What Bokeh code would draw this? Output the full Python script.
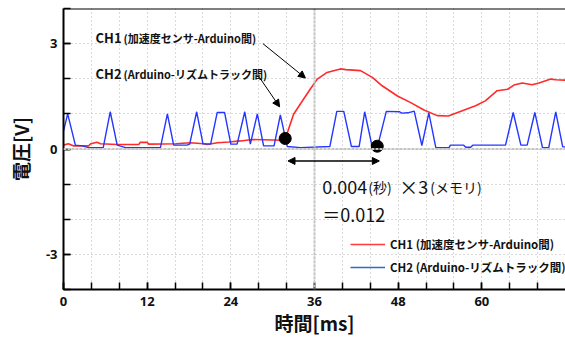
from bokeh.plotting import figure
from bokeh.models import FixedTicker, Span, Arrow, NormalHead, Legend, LegendItem, Label
from bokeh.embed import file_html
from bokeh.resources import INLINE

# ---------------- data ----------------
t_ch1 = [0.0, 0.7, 1.4, 3.6, 3.9, 4.8, 5.3, 7.7, 10.8, 11.0, 12.0, 12.2, 16.1, 18.2,
         20.1, 20.6, 22.1, 23.7, 25.4, 27.1, 31.4, 31.9, 33.0, 34.3, 35.4, 36.4, 37.8,
         39.7, 40.5, 42.6, 44.3, 45.7, 47.9, 49.8, 51.7, 53.6, 55.2, 57.2, 59.1, 60.5,
         62.2, 63.7, 64.6, 65.8, 67.2, 68.2, 69.9, 70.6, 72.0]
v_ch1 = [0.11, 0.15, 0.09, 0.09, 0.15, 0.19, 0.15, 0.13, 0.13, 0.19, 0.19, 0.14, 0.15, 0.18,
         0.15, 0.13, 0.18, 0.20, 0.23, 0.27, 0.25, 0.34, 0.99, 1.38, 1.71, 1.99, 2.18,
         2.28, 2.26, 2.23, 2.04, 1.80, 1.51, 1.32, 1.11, 0.95, 0.94, 1.09, 1.23, 1.37,
         1.66, 1.70, 1.82, 1.88, 1.83, 1.88, 1.99, 1.97, 1.96]

t_ch2 = [0.0, 0.6, 1.7, 2.7, 3.6, 5.7, 6.7, 7.7, 8.9, 13.9, 14.9, 15.8, 17.7, 18.1, 19.1,
         20.0, 21.1, 22.05, 23.1, 24.0, 24.9, 26.0, 26.8, 27.8, 28.7, 30.2, 31.1, 32.1,
         34.0, 38.2, 39.2, 40.2, 41.3, 42.4, 43.2, 44.3, 45.0, 46.3, 48.2, 48.5, 49.4,
         50.3, 51.4, 52.4, 53.4, 55.3, 55.5, 57.4, 57.7, 58.4, 58.7, 63.4, 64.5, 65.6,
         66.5, 67.6, 68.7, 69.6, 70.6, 71.6, 72.0]
v_ch2 = [0.51, 1.00, 0.11, 0.09, 0.04, 0.04, 1.06, 0.11, 0.04, 0.04, 1.00, 0.11, 0.11, 0.14, 1.06,
         0.15, 0.14, 1.04, 1.04, 0.14, 0.14, 1.06, 0.14, 1.00, 0.09, 0.09, 0.97, 0.07,
         0.04, 0.07, 1.07, 1.07, 0.07, 0.07, 1.06, 0.04, 0.04, 1.07, 1.06, 1.02, 1.03,
         1.08, 0.10, 1.03, 0.04, 0.04, 0.11, 0.11, 0.05, 0.05, 0.11, 0.11, 1.04, 0.11,
         0.11, 1.04, 0.04, 0.04, 1.06, 0.06, 0.06]

marker_t = [31.8, 45.0]
marker_v = [0.30, 0.08]

x_tick_values = [0, 12, 24, 36, 48, 60]
x_minor_values = [0, 4, 8, 12, 16, 20, 24, 28, 32, 36, 40, 44, 48, 52, 56, 60, 64, 68]
y_tick_values = [-3, 0, 3]
y_minor_values = [-4, -3, -2, -1, 0, 1, 2, 3, 4]

ch1_name = "CH1"
ch1_desc = "(加速度センサ-Arduino間)"
ch2_name = "CH2"
ch2_desc = "(Arduino-リズムトラック間)"

# ---------------- figure ----------------
JP = "Noto Sans CJK JP"
RED = "#ff2a2a"
BLUE = "#2436ff"
NAN = float("nan")

p = figure(width=565, height=338, x_range=(0, 72), y_range=(-4, 4),
           output_backend="svg", toolbar_location=None,
           min_border_left=63, min_border_right=0, min_border_top=8, min_border_bottom=49)
p.outline_line_color = None
p.background_fill_color = "white"

# axes
p.xaxis.ticker = FixedTicker(ticks=x_tick_values, minor_ticks=x_minor_values)
p.yaxis.ticker = FixedTicker(ticks=y_tick_values, minor_ticks=y_minor_values)
p.yaxis.major_label_overrides = {-3: "-3", 0: "0", 3: "3"}
for ax in (p.xaxis, p.yaxis):
    ax.axis_line_color = "black"
    ax.axis_line_width = 2
    ax.major_tick_in = 7
    ax.major_tick_out = 0
    ax.minor_tick_in = 7
    ax.minor_tick_out = 0
    ax.major_tick_line_width = 1.5
    ax.minor_tick_line_width = 1.5
    ax.major_tick_line_color = "black"
    ax.minor_tick_line_color = "black"
    ax.major_label_text_font = "Open Sans"
    ax.major_label_text_font_style = "bold"
    ax.major_label_text_font_size = "13px"
    ax.major_label_text_color = "#111111"
    ax.axis_label_text_font = JP
    ax.axis_label_text_font_style = "bold"
    ax.axis_label_text_font_size = "19px"
    ax.axis_label_text_color = "#111111"

p.xaxis.axis_label = "時間[ms]"
p.yaxis.axis_label = "電圧[V]"
p.xaxis.major_label_standoff = 7
p.xaxis.axis_label_standoff = 0
p.yaxis.major_label_standoff = 6
p.yaxis.axis_label_standoff = 9

# grid (dotted graticule)
p.xgrid.ticker = FixedTicker(ticks=x_minor_values[1:])
p.ygrid.ticker = FixedTicker(ticks=y_minor_values[1:-1])
for g in (p.xgrid, p.ygrid):
    g.grid_line_color = "#b5b5b5"
    g.grid_line_dash = "1 3"
    g.grid_line_width = 1

# centre lines
p.add_layout(Span(location=36, dimension="height", line_color="#c4c4c4", line_width=2, line_dash="3 1"))
p.add_layout(Span(location=0, dimension="width", line_color="#c4c4c4", line_width=2, line_dash="3 1"))
# top frame line
p.add_layout(Span(location=4, dimension="width", line_color="black", line_width=2))

# data lines
r1 = p.line(t_ch1, v_ch1, line_color=RED, line_width=1.6)
r2 = p.line(t_ch2, v_ch2, line_color=BLUE, line_width=1.4)
p.scatter(marker_t, marker_v, size=12, color="black")

# legend (its own swatches, invisible in the plot)
l1 = p.line([NAN], [NAN], line_color="#ff3b3b", line_width=1.6)
l2 = p.line([NAN], [NAN], line_color="#2b6cc4", line_width=1.6)
legend = Legend(items=[LegendItem(label=ch1_name + " " + ch1_desc, renderers=[l1]),
                       LegendItem(label=ch2_name + " " + ch2_desc, renderers=[l2])],
                location=(287, 14), padding=0, margin=0, spacing=7,
                glyph_width=35, glyph_height=16, label_height=16, label_standoff=5,
                label_text_font=JP, label_text_font_style="bold", label_text_font_size="11.5px",
                label_text_color="#111111",
                background_fill_alpha=0, border_line_alpha=0)
p.add_layout(legend)

# callouts
def callout(name, desc, x, y):
    p.add_layout(Label(x=x, y=y, text=name, text_font=JP, text_font_style="bold",
                       text_font_size="13px", text_baseline="middle", text_color="#111111"))
    p.add_layout(Label(x=x, y=y, x_offset=28, text=desc, text_font=JP, text_font_style="bold",
                       text_font_size="11px", text_baseline="middle", text_color="#111111"))

callout(ch1_name, ch1_desc, 4.6, 3.17)
callout(ch2_name, ch2_desc, 4.6, 2.14)

p.add_layout(Arrow(x_start=28.6, y_start=3.0, x_end=34.7, y_end=2.02, line_width=1,
                   end=NormalHead(size=7, fill_color="black", line_color="black")))
p.add_layout(Arrow(x_start=28.1, y_start=2.04, x_end=31.0, y_end=1.2, line_width=1,
                   end=NormalHead(size=7, fill_color="black", line_color="black")))

# double arrow (time difference)
p.add_layout(Arrow(x_start=32.2, y_start=-0.34, x_end=45.3, y_end=-0.34, line_width=1.5,
                   start=NormalHead(size=7, fill_color="black", line_color="black"),
                   end=NormalHead(size=7, fill_color="black", line_color="black")))

# formula text
pieces = [("0.004", 0, "18px"), ("(秒)", 46, "14px"), ("×", 77, "19px"),
          ("3", 96, "18px"), ("(メモリ)", 108, "14px")]
for txt, off, fs in pieces:
    p.add_layout(Label(x=37.1, y=-1.08, x_offset=off, text=txt, text_font=JP,
                       text_font_size=fs, text_baseline="middle", text_color="#111111"))
p.add_layout(Label(x=37.1, y=-1.85, text="＝0.012", text_font=JP,
                   text_font_size="18px", text_baseline="middle", text_color="#111111"))

open("out.html", "w").write(file_html(p, INLINE))
